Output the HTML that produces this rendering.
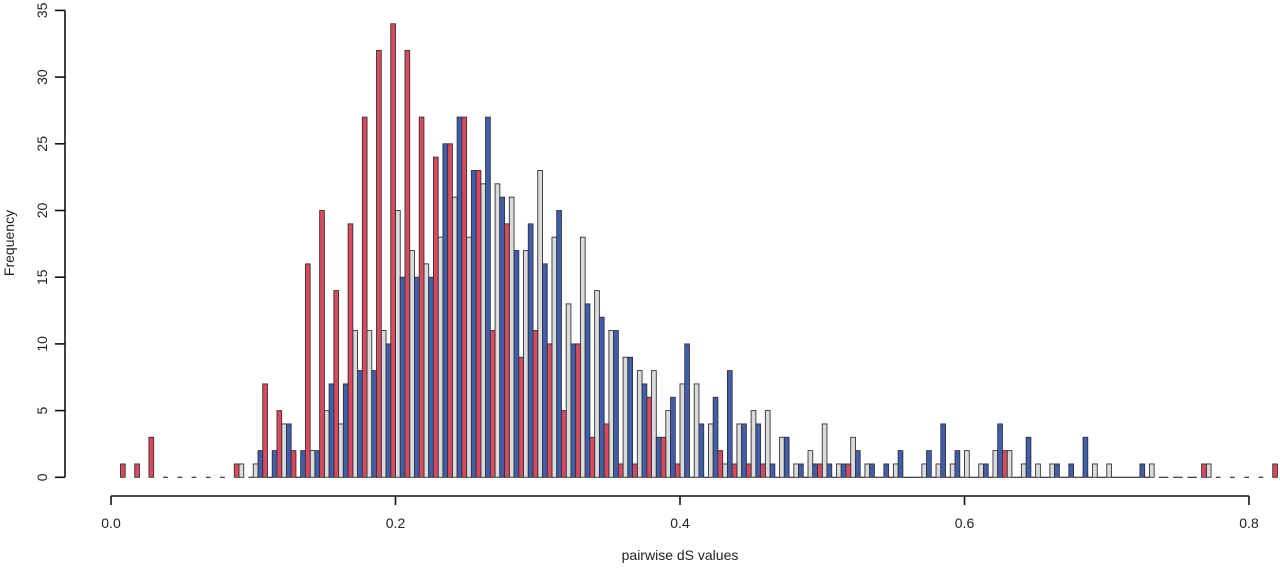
<!DOCTYPE html>
<html><head><meta charset="utf-8"><style>
html,body{margin:0;padding:0;background:#fff;}
svg{display:block;font-family:"Liberation Sans",sans-serif;}
</style></head><body>
<svg id="chart" width="1280" height="568" viewBox="0 0 1280 568" xmlns="http://www.w3.org/2000/svg">
<g id="bars"></g>
<g id="axes"></g>
<text x="680" y="560" font-size="14" text-anchor="middle" fill="#222">pairwise dS values</text>
<text transform="translate(14,243) rotate(-90)" font-size="14" text-anchor="middle" fill="#222">Frequency</text>
</svg>
<script>
const binWidth = 0.01;
const redStart = 0;
const redCounts = [1,1,3,0,0,0,0,0,1,0,7,5,2,16,20,14,19,27,32,34,32,27,24,25,27,23,11,19,9,11,10,5,10,3,4,1,1,6,3,1,0,0,2,1,1,1,0,0,0,1,0,1,0,0,0,0,0,0,0,0,0,0,2,0,0,0,0,0,0,0,0,0,0,0,0,0,1,0,0,0,0,1];
const grayStart = 9;
const grayCounts = [1,1,0,4,0,2,5,4,11,11,11,20,17,16,18,21,18,22,22,21,17,23,18,13,18,14,11,9,8,8,5,7,7,4,1,4,5,5,3,1,2,4,1,3,1,0,1,0,1,1,1,2,1,2,2,1,1,1,0,0,1,1,0,0,1,0,0,0,1];
const blueStart = 10;
const blueCounts = [2,2,4,2,2,7,7,8,8,10,15,15,15,25,27,23,27,21,17,19,16,20,10,13,12,11,9,7,3,6,10,4,6,8,4,4,1,3,1,1,1,1,2,1,1,2,0,2,4,2,0,1,4,0,3,0,1,1,3,0,0,0,1];
const xTicks = [0,0.2,0.4,0.6,0.8];
const xTickLabels = ["0.0","0.2","0.4","0.6","0.8"];
const yTicks = [0,5,10,15,20,25,30,35];

const NS = "http://www.w3.org/2000/svg";
function xScale(v){ return 111 + v*1422.5; }
function yScale(c){ return 477.3 - c*13.34; }
const barsG = document.getElementById('bars');
const axesG = document.getElementById('axes');

const series = [
  {name:'gray', start:grayStart, counts:grayCounts, fill:'#d9dbdd', slot:0},
  {name:'blue', start:blueStart, counts:blueCounts, fill:'#3f5fae', slot:1},
  {name:'red', start:redStart, counts:redCounts, fill:'#d94a5e', slot:2}
];
series.forEach(s=>{
  s.counts.forEach((c,j)=>{
    const i = s.start + j;
    const x0 = xScale(i*binWidth);
    const x1 = xScale((i+1)*binWidth);
    const w = (x1-x0)/3;
    const bx = x0 + s.slot*w;
    if(c>0){
      const r = document.createElementNS(NS,'rect');
      
      
      r.setAttribute('x', bx.toFixed(2));
      r.setAttribute('y', yScale(c).toFixed(2));
      r.setAttribute('width', w.toFixed(2));
      r.setAttribute('height', (yScale(0)-yScale(c)).toFixed(2));
      r.setAttribute('fill', s.fill);
      r.setAttribute('stroke', '#333');
      r.setAttribute('stroke-width', '0.9');
      barsG.appendChild(r);
    } else {
      const l = document.createElementNS(NS,'line');
      
      
      l.setAttribute('x1', bx.toFixed(2));
      l.setAttribute('x2', (bx+w).toFixed(2));
      l.setAttribute('y1', yScale(0).toFixed(2));
      l.setAttribute('y2', yScale(0).toFixed(2));
      l.setAttribute('stroke', '#333');
      l.setAttribute('stroke-width', '1.2');
      barsG.appendChild(l);
    }
  });
});

function line(x1,y1,x2,y2,name){
  const l = document.createElementNS(NS,'line');
  
  
  l.setAttribute('x1',x1); l.setAttribute('y1',y1);
  l.setAttribute('x2',x2); l.setAttribute('y2',y2);
  l.setAttribute('stroke','#111'); l.setAttribute('stroke-width','1.6');
  axesG.appendChild(l);
}
// x axis
line(xScale(xTicks[0]),496,xScale(xTicks[xTicks.length-1]),496,'x-axis-line');
xTicks.forEach((t,k)=>{
  line(xScale(t),496,xScale(t),505,'x-tick');
  const tx = document.createElementNS(NS,'text');
  
  
  tx.setAttribute('x', xScale(t)); tx.setAttribute('y', 528);
  tx.setAttribute('font-size','14'); tx.setAttribute('text-anchor','middle'); tx.setAttribute('fill','#222');
  tx.textContent = xTickLabels[k];
  axesG.appendChild(tx);
});
// y axis
line(65,yScale(yTicks[0]),65,yScale(yTicks[yTicks.length-1]),'y-axis-line');
yTicks.forEach(t=>{
  line(55,yScale(t),65,yScale(t),'y-tick');
  const tx = document.createElementNS(NS,'text');
  
  
  tx.setAttribute('transform','translate(47,'+yScale(t)+') rotate(-90)');
  tx.setAttribute('font-size','14'); tx.setAttribute('text-anchor','middle'); tx.setAttribute('fill','#222');
  tx.textContent = String(t);
  axesG.appendChild(tx);
});
</script>
</body></html>
